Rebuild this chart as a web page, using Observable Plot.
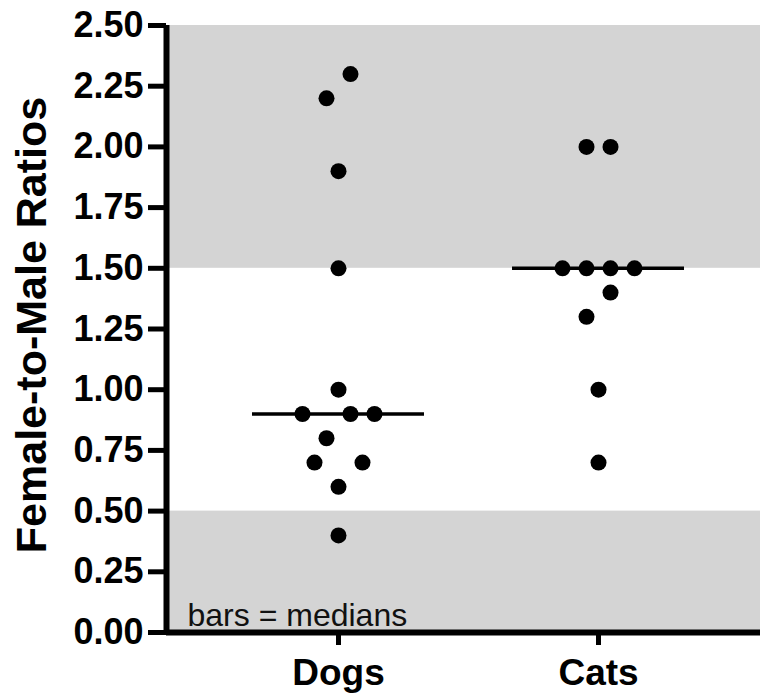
<!DOCTYPE html>
<html>
<head>
<meta charset="utf-8">
<script src="https://cdn.jsdelivr.net/npm/d3@7"></script>
<script src="https://cdn.jsdelivr.net/npm/@observablehq/plot@0.6"></script>
<style>
  html, body { margin: 0; padding: 0; background: #fff; }
  svg { display: block; }
</style>
</head>
<body>
<div id="chart"></div>
<script>
// ---- data ----
const groups = ["Dogs", "Cats"];
const dogs = [2.3, 2.2, 1.9, 1.5, 1.0, 0.9, 0.9, 0.9, 0.8, 0.7, 0.7, 0.6, 0.4];
const cats = [2.0, 2.0, 1.5, 1.5, 1.5, 1.5, 1.4, 1.3, 1.0, 0.7];
const yTicks = [0, 0.25, 0.5, 0.75, 1.0, 1.25, 1.5, 1.75, 2.0, 2.25, 2.5];
const bandLow = [0, 0.5];
const bandHigh = [1.5, 2.5];
const yLabel = "Female-to-Male Ratios";
const note = "bars = medians";

// ---- layout constants ----
const W = 760, H = 694;
const mL = 166, mR = 0, mT = 25, mB = 62;
const xDomain = [0.3385, 2.623];
const pxPerUnit = (W - mL - mR) / (xDomain[1] - xDomain[0]);
const slotPx = 24;            // horizontal spacing between neighbouring dots
const halfBarPx = 86;         // half width of the median bar
const font = "'Liberation Sans', Arial, Helvetica, sans-serif";

// scatter layout: bin values per group, spread each bin symmetrically
function scatter(values, gi) {
  const min = d3.min(values);
  const bins = d3.group(values, v => Math.floor((v - min + 0.05) / 0.2 + 1e-9));
  const out = [];
  for (const [, vals] of bins) {
    const sorted = vals.slice().sort(d3.ascending);
    const n = sorted.length;
    const pos = d3.range(n).map(i => i - (n - 1) / 2)
      .sort((a, b) => Math.abs(a) - Math.abs(b) || a - b);
    sorted.forEach((v, i) => out.push({group: groups[gi], gx: gi + 1, x: gi + 1 + pos[i] * slotPx / pxPerUnit, value: v}));
  }
  return out;
}
const points = [...scatter(dogs, 0), ...scatter(cats, 1)];
const medians = [dogs, cats].map((vals, i) => ({gx: i + 1, median: d3.median(vals)}));
const bands = [bandHigh, bandLow].map(([a, b]) => ({y1: a, y2: b}));

const chart = Plot.plot({
  width: W, height: H,
  marginLeft: mL, marginRight: mR, marginTop: mT, marginBottom: mB,
  style: {fontFamily: font, color: "black", background: "white"},
  x: {domain: xDomain},
  y: {domain: [0, 2.5]},
  marks: [
    Plot.rect(bands, {y1: "y1", y2: "y2", fill: "#d4d4d4"}),
    Plot.text([note], {frameAnchor: "bottom-left", dx: 21, dy: -7, textAnchor: "start", lineAnchor: "bottom", fontSize: 32, fill: "#111"}),
    Plot.ruleY(medians, {y: "median", x1: d => d.gx - halfBarPx / pxPerUnit, x2: d => d.gx + halfBarPx / pxPerUnit, stroke: "black", strokeWidth: 3.5}),
    Plot.dot(points, {x: "x", y: "value", r: 8, fill: "black", stroke: "none"}),
    Plot.axisY({ticks: yTicks, tickFormat: d3.format(".2f"), tickSize: 18, tickPadding: 5, fontSize: 36, fontWeight: "bold", strokeWidth: 5, label: null}),
    Plot.axisX({ticks: [1, 2], tickFormat: d => groups[d - 1], tickSize: 13, tickPadding: 13, fontSize: 37, fontWeight: "bold", strokeWidth: 5, label: null}),
    Plot.ruleX([xDomain[0]], {stroke: "black", strokeWidth: 6}),
    Plot.ruleY([0], {stroke: "black", strokeWidth: 6}),
    Plot.text([yLabel], {frameAnchor: "left", textAnchor: "middle", rotate: -90, dx: -134, dy: -4, fontSize: 43, fontWeight: "bold", fill: "black"})
  ]
});
document.getElementById("chart").appendChild(chart);
</script>
</body>
</html>
